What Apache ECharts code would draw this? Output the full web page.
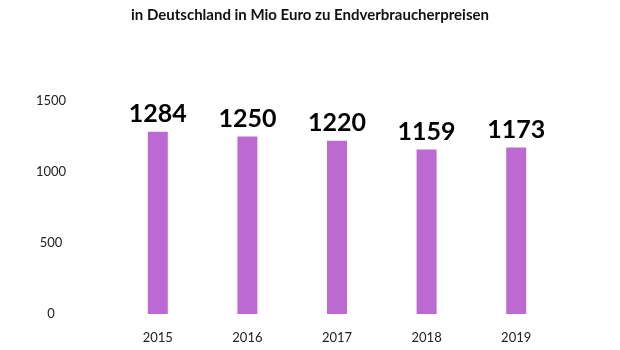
<!DOCTYPE html>
<html>
<head>
<meta charset="utf-8">
<script src="https://cdn.jsdelivr.net/npm/echarts@6/dist/echarts.min.js"></script>
<style>
  html, body { margin: 0; padding: 0; background: #fff; }
  #chart { width: 620px; height: 350px; }
</style>
</head>
<body>
<div id="chart"></div>
<script>
// Daten
var years = ['2015', '2016', '2017', '2018', '2019'];
var umsatz = [1284, 1250, 1220, 1159, 1173];
var yTicks = [0, 500, 1000, 1500];

var chart = echarts.init(document.getElementById('chart'));

var option = {
    backgroundColor: '#ffffff',
    textStyle: { fontFamily: 'Lato' },
    title: {
        text: 'in Deutschland in Mio Euro zu Endverbraucherpreisen',
        left: 'center',
        top: 3,
        textStyle: { fontFamily: 'Lato', fontSize: 15, fontWeight: 'bold', color: '#111' }
    },
    grid: { left: 113, right: 59, top: 101, bottom: 36 },
    xAxis: {
        type: 'category',
        data: years,
        axisLine: { show: false },
        axisTick: { show: false },
        axisLabel: { color: '#222', fontSize: 13, margin: 17 }
    },
    yAxis: {
        type: 'value',
        min: yTicks[0],
        max: yTicks[yTicks.length - 1],
        interval: 500,
        splitLine: { show: false },
        axisLine: { show: false },
        axisTick: { show: false },
        axisLabel: {
            color: '#222', fontSize: 13, align: 'center', margin: 62,
            formatter: function (v) { return String(v); }
        }
    },
    series: [{
        type: 'bar',
        data: umsatz,
        barWidth: 20,
        itemStyle: { color: '#bc6ad1' },
        label: {
            show: true,
            position: 'top',
            distance: 5,
            color: '#000',
            fontFamily: 'Lato',
            fontWeight: 'bold',
            fontSize: 25
        }
    }]
};

chart.setOption(option);
</script>
</body>
</html>
